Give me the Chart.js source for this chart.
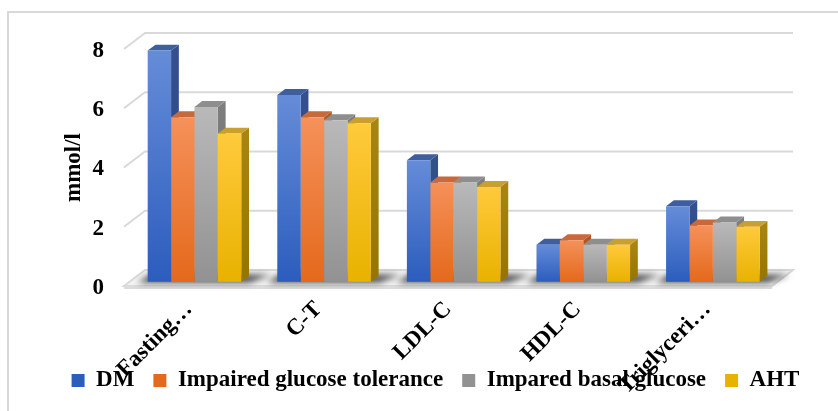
<!DOCTYPE html>
<html>
<head>
<meta charset="utf-8">
<script src="https://cdn.jsdelivr.net/npm/chart.js@4.4.1/dist/chart.umd.min.js"></script>
<style>
  html, body { margin: 0; padding: 0; background: #ffffff; }
  #wrap { position: relative; width: 838px; height: 411px; overflow: hidden; }
</style>
</head>
<body>
<div id="wrap"><canvas id="chart" width="838" height="411"></canvas></div>
<script>
// Lipid and glucose values (mmol/l) per patient group
const categories = ['Fasting…', 'C-T', 'LDL-C', 'HDL-C', 'Triglyceri…'];
const seriesNames = ['DM', 'Impaired glucose tolerance', 'Impared basal glucose', 'AHT'];
const dmValues  = [7.8, 6.3, 4.1, 1.25, 2.55];
const igtValues = [5.55, 5.55, 3.35, 1.4, 1.9];
const ibgValues = [5.9, 5.45, 3.35, 1.25, 2.0];
const ahtValues = [5.0, 5.35, 3.2, 1.25, 1.85];
const yTicks = [0, 2, 4, 6, 8];
const yTitle = 'mmol/l';

// Colours for each series: flat legend colour, front gradient, side and top faces
const palette = [
  { solid: '#4472c4', hi: '#658cd8', lo: '#2c5dbd', side: '#34518e', sideLo: '#26427a', top: '#3f5e9f' },
  { solid: '#ed7d31', hi: '#f5915a', lo: '#e4691c', side: '#b5581f', sideLo: '#9c4715', top: '#c8693b' },
  { solid: '#a5a5a5', hi: '#b9b9b9', lo: '#929292', side: '#7e7e7e', sideLo: '#6c6c6c', top: '#8e8e8e' },
  { solid: '#ffc000', hi: '#ffca3c', lo: '#e8b200', side: '#a88510', sideLo: '#957400', top: '#c99f2e' }
];

const SERIF = "'Liberation Serif', 'Times New Roman', serif";

// 3D box geometry (pixels): full depth of floor/walls and where bars sit in it
const DEPTH = { dx: 21, dy: 16 };
const BAR_FRONT = 0.27;
const BAR_DEPTH = 0.37;

function frontFill(idx) {
  const p = palette[idx];
  return (context) => {
    if (context.type !== 'data') return p.solid;
    const chart = context.chart;
    const ys = chart.scales.y;
    if (!ys || ys.top === undefined || context.parsed === undefined) return p.solid;
    const yTop = ys.getPixelForValue(context.parsed.y);
    const yBase = ys.getPixelForValue(0);
    if (!isFinite(yTop) || !isFinite(yBase) || yTop === yBase) return p.solid;
    const g = chart.ctx.createLinearGradient(0, yTop, 0, yBase);
    g.addColorStop(0, p.hi);
    g.addColorStop(1, p.lo);
    return g;
  };
}

function poly(ctx, pts, fill) {
  ctx.beginPath();
  ctx.moveTo(pts[0][0], pts[0][1]);
  for (let k = 1; k < pts.length; k++) ctx.lineTo(pts[k][0], pts[k][1]);
  ctx.closePath();
  ctx.fillStyle = fill;
  ctx.fill();
}

// Draws the frame, walls, floor, floor shadows and the side/top faces of the bars.
// Bar fronts are drawn by Chart.js inside the translated context.
const scene3d = {
  id: 'scene3d',
  beforeDraw(chart) {
    const c = chart.ctx;
    c.save();
    c.strokeStyle = '#d9d9d9';
    c.lineWidth = 2;
    c.strokeRect(8, 12, 900, 500);
    c.restore();
  },
  beforeDatasetsDraw(chart) {
    const ctx = chart.ctx;
    const a = chart.chartArea;
    const y = chart.scales.y;
    const y0 = y.getPixelForValue(0);

    ctx.save();
    // left-wall and back-wall grid lines
    ctx.strokeStyle = '#d9d9d9';
    ctx.lineWidth = 2;
    yTicks.forEach(v => {
      if (v === 0) return;
      const py = y.getPixelForValue(v);
      ctx.beginPath();
      ctx.moveTo(a.left, py);
      ctx.lineTo(a.left + DEPTH.dx, py - DEPTH.dy);
      ctx.lineTo(a.right + DEPTH.dx, py - DEPTH.dy);
      ctx.stroke();
    });

    // floor
    ctx.beginPath();
    ctx.moveTo(a.left, y0);
    ctx.lineTo(a.left + DEPTH.dx, y0 - DEPTH.dy);
    ctx.lineTo(a.right + DEPTH.dx, y0 - DEPTH.dy);
    ctx.lineTo(a.right, y0);
    ctx.closePath();
    ctx.fillStyle = '#f3f3f3';
    ctx.fill();
    ctx.stroke();
    ctx.fillStyle = '#dcdcdc';
    ctx.fillRect(a.left, y0, a.right - a.left, 3);

    // soft shadows under each group of bars
    const ox = BAR_FRONT * DEPTH.dx, oy = BAR_FRONT * DEPTH.dy;
    const bx = BAR_DEPTH * DEPTH.dx, by = BAR_DEPTH * DEPTH.dy;
    const nSeries = chart.data.datasets.length;
    ctx.filter = 'blur(3px)';
    ctx.fillStyle = 'rgba(35,35,35,0.8)';
    categories.forEach((_, i) => {
      const first = chart.getDatasetMeta(0).data[i];
      const last = chart.getDatasetMeta(nSeries - 1).data[i];
      const L = first.x - first.width / 2 + ox;
      const R = last.x + last.width / 2 + ox;
      const fy = y0 - oy;
      ctx.beginPath();
      ctx.moveTo(L - 10, fy + 1);
      ctx.lineTo(R + 8, fy + 1);
      ctx.lineTo(R + bx + 22, fy - by - 1);
      ctx.lineTo(L + bx - 4, fy - by - 2);
      ctx.closePath();
      ctx.fill();
    });
    ctx.filter = 'none';
    ctx.restore();

    // bars sit a little behind the front plane
    ctx.save();
    ctx.translate(ox, -oy);
    categories.forEach((_, i) => {
      chart.data.datasets.forEach((ds, d) => {
        const el = chart.getDatasetMeta(d).data[i];
        const p = palette[d];
        const L = el.x - el.width / 2, R = el.x + el.width / 2;
        const T = el.y, B = el.base;
        const sg = ctx.createLinearGradient(0, T, 0, B);
        sg.addColorStop(0, p.side);
        sg.addColorStop(1, p.sideLo);
        poly(ctx, [[R, T], [R + bx, T - by], [R + bx, B - by], [R, B]], sg);
        poly(ctx, [[L, T], [L + bx, T - by], [R + bx, T - by], [R, T]], p.top);
      });
    });
  },
  afterDatasetsDraw(chart) {
    chart.ctx.restore();
  }
};

const seriesValues = [dmValues, igtValues, ibgValues, ahtValues];

new Chart(document.getElementById('chart'), {
  type: 'bar',
  data: {
    labels: categories,
    datasets: seriesNames.map((name, d) => ({
      label: name,
      data: seriesValues[d],
      backgroundColor: frontFill(d),
      borderWidth: 0,
      categoryPercentage: 0.722,
      barPercentage: 1.0,
      clip: false
    }))
  },
  options: {
    responsive: false,
    devicePixelRatio: 1,
    animation: false,
    events: [],
    layout: { padding: { left: 33, top: 49, right: 0, bottom: 9 } },
    plugins: {
      tooltip: { enabled: false },
      legend: {
        position: 'bottom',
        labels: {
          boxWidth: 13,
          boxHeight: 13,
          padding: 19,
          color: '#000000',
          font: { family: SERIF, size: 23, weight: 'bold' }
        }
      }
    },
    scales: {
      x: {
        grid: { display: false, drawTicks: false },
        border: { display: false },
        ticks: {
          autoSkip: false,
          minRotation: 45,
          maxRotation: 45,
          padding: 10,
          color: '#000000',
          font: { family: SERIF, size: 23, weight: 'bold' }
        },
        afterFit: s => {
          s.height = 64;
          // long rotated labels run down over the legend row; draw them unclipped
          s._computeLabelArea = () => undefined;
        }
      },
      y: {
        min: 0,
        max: 8,
        grid: { display: false, drawTicks: false },
        border: { display: false },
        ticks: {
          padding: 20,
          labelOffset: 2,
          color: '#000000',
          font: { family: SERIF, size: 23, weight: 'bold' }
        },
        afterBuildTicks: s => { s.ticks = yTicks.map(v => ({ value: v })); },
        title: {
          display: true,
          text: yTitle,
          color: '#000000',
          padding: { top: 27, bottom: 0 },
          font: { family: SERIF, size: 23, weight: 'bold' }
        },
        afterFit: s => { s.width = 91; }
      },
      yRight: {
        position: 'right',
        display: true,
        grid: { display: false, drawTicks: false },
        border: { display: false },
        ticks: { display: false },
        afterFit: s => { s.width = 66; }
      }
    }
  },
  plugins: [scene3d]
});
</script>
</body>
</html>
